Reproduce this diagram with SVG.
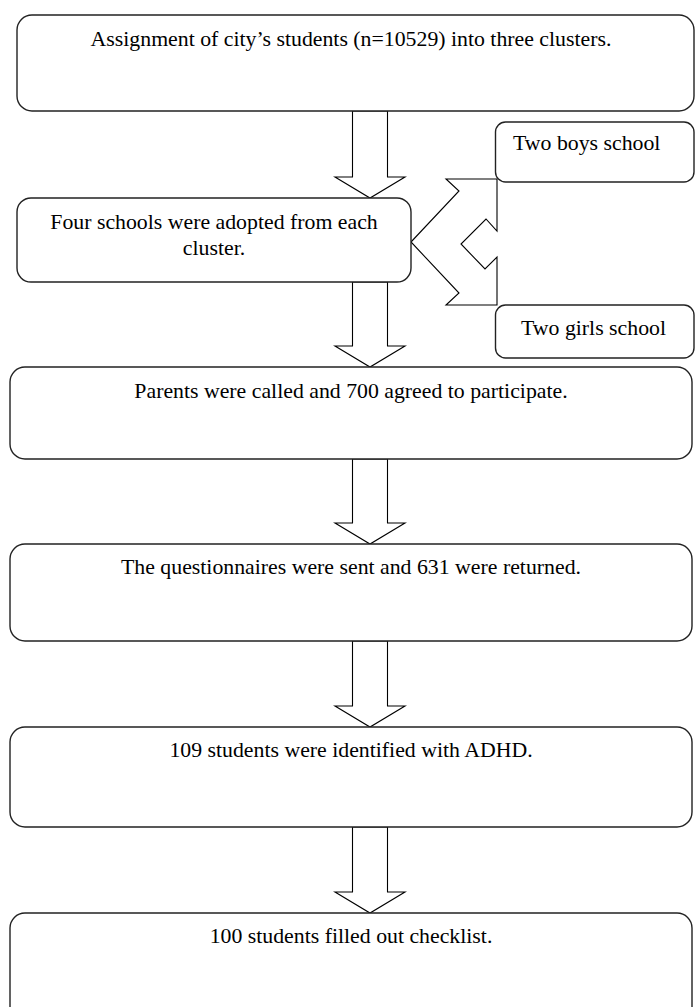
<svg xmlns="http://www.w3.org/2000/svg" width="695" height="1007" viewBox="0 0 695 1007">
<style>
.box{fill:#fff;stroke:#222;stroke-width:1.4}
.arr{fill:#fff;stroke:#000;stroke-width:1.1;stroke-linejoin:miter}
text{font-family:"Liberation Serif","Times New Roman",serif;font-size:21.8px;fill:#000}
.c{text-anchor:middle}
</style>
<rect width="695" height="1007" fill="#fff"/>
<g id="connectors">
<polygon class="arr" points="352.5,111 387.5,111 387.5,177 405,177 370,198 335,177 352.5,177"/>
<polygon class="arr" points="352.5,282 387.5,282 387.5,346 405,346 370,367 335,346 352.5,346"/>
<polygon class="arr" points="352.5,459 387.5,459 387.5,523 405,523 370,544 335,523 352.5,523"/>
<polygon class="arr" points="352.5,641 387.5,641 387.5,706 405,706 370,727 335,706 352.5,706"/>
<polygon class="arr" points="352.5,827 387.5,827 387.5,892 405,892 370,913 335,892 352.5,892"/>
<polygon class="arr" points="411,242 459,191 446,179 497,179 497,231 486,219 461,244 485,269 497,257 497,305 446,305 459,293"/>
</g>
<g id="n1"><rect class="box" x="17" y="15" width="677" height="96" rx="15"/><text class="c" x="351" y="46">Assignment of city’s students (n=10529) into three clusters.</text></g>
<g id="n2"><rect class="box" x="17" y="198" width="394" height="84" rx="14"/><text class="c" x="214" y="229">Four schools were adopted from each</text><text class="c" x="214" y="255">cluster.</text></g>
<g id="n2a"><rect class="box" x="495.5" y="122" width="198.5" height="60" rx="10"/><text x="513" y="150">Two boys school</text></g>
<g id="n2b"><rect class="box" x="495.5" y="305" width="198.5" height="53" rx="10"/><text x="521" y="335">Two girls school</text></g>
<g id="n3"><rect class="box" x="10" y="367" width="682" height="92" rx="15"/><text class="c" x="351" y="398">Parents were called and 700 agreed to participate.</text></g>
<g id="n4"><rect class="box" x="10" y="544" width="682" height="97" rx="15"/><text class="c" x="351" y="574">The questionnaires were sent and 631 were returned.</text></g>
<g id="n5"><rect class="box" x="10" y="727" width="682" height="100" rx="15"/><text class="c" x="351" y="757">109 students were identified with ADHD.</text></g>
<g id="n6"><rect class="box" x="10" y="913" width="682" height="120" rx="15"/><text class="c" x="351" y="943">100 students filled out checklist.</text></g>
</svg>
